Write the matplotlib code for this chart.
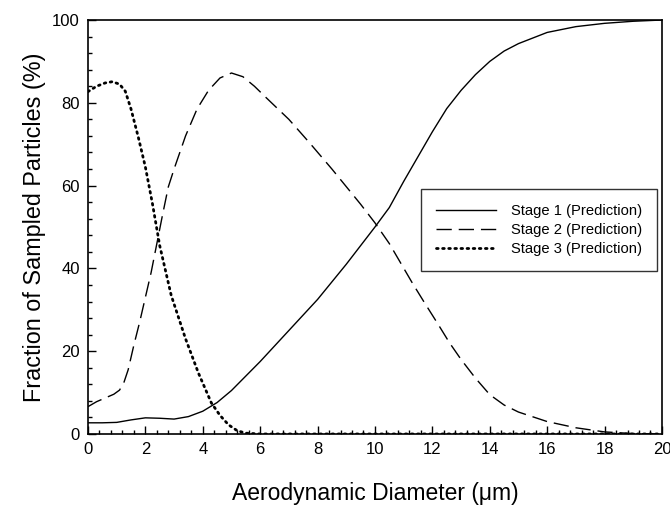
import matplotlib.pyplot as plt
from matplotlib.ticker import MultipleLocator

plt.rcParams['font.family'] = ['Liberation Sans', 'DejaVu Sans']

# Stage 1 (solid)
x1 = [0, 0.5, 1, 1.5, 2, 2.5, 3, 3.5, 4, 4.5, 5, 5.5, 6, 7, 8, 9, 10, 10.5,
      11, 11.5, 12, 12.5, 13, 13.5, 14, 14.5, 15, 16, 17, 18, 19, 20]
y1 = [2.7, 2.7, 2.8, 3.4, 3.9, 3.8, 3.6, 4.2, 5.5, 7.6, 10.5, 14, 17.5, 25,
      32.5, 41, 50, 54.7, 61, 67, 73, 78.6, 83, 86.8, 90, 92.5, 94.3, 97,
      98.4, 99.2, 99.7, 100]

# Stage 2 (dashed)
x2 = [0, 0.3, 0.6, 0.9, 1.1, 1.25, 1.4, 1.6, 1.8, 2.0, 2.2, 2.4, 2.6, 2.8,
      3.0, 3.4, 3.8, 4.2, 4.6, 5.0, 5.4, 5.8, 6.2, 7, 7.7, 8.5, 9.5, 10,
      10.5, 11.3, 11.7, 12.2, 12.6, 13, 13.5, 14, 14.5, 15, 16, 17, 18, 19, 20]
y2 = [6.6, 7.8, 8.7, 9.6, 10.6, 12.4, 15.5, 21.5, 27, 33, 39, 46, 53, 59.7,
      64, 72, 78.5, 83, 86, 87.2, 86.3, 84, 81.3, 76, 70.5, 64, 55.5, 51,
      46, 36.5, 32, 26.5, 22, 18, 13.5, 9.5, 7, 5.3, 3, 1.5, 0.5, 0.1, 0]

# Stage 3 (dotted)
x3 = [0, 0.3, 0.6, 0.85, 1.1, 1.3, 1.5, 1.75, 2.0, 2.25, 2.5, 2.9, 3.4,
      3.85, 4.3, 4.6, 4.9, 5.2, 5.5, 6, 20]
y3 = [82.7, 84.0, 84.8, 85.1, 84.5, 82.8, 78.5, 71.8, 64.5, 55.5, 45.5,
      33.5, 23, 14.7, 7.5, 4.5, 2.2, 0.8, 0.2, 0, 0]

fig = plt.figure(figsize=(6.7, 5.08), dpi=100)
ax = fig.add_axes([0.1313, 0.1457, 0.8567, 0.8149])

ax.plot(x1, y1, color='black', lw=1.0, label='Stage 1 (Prediction)')
ax.plot(x2, y2, color='black', lw=1.0, linestyle=(0, (11, 5)),
        label='Stage 2 (Prediction)')
ax.plot(x3, y3, color='black', lw=2.0, linestyle=(0, (0.6, 1.6)),
        dash_capstyle='round', label='Stage 3 (Prediction)')

ax.set_xlim(0, 20)
ax.set_ylim(0, 100)
ax.xaxis.set_major_locator(MultipleLocator(2))
ax.xaxis.set_minor_locator(MultipleLocator(0.4))
ax.yaxis.set_major_locator(MultipleLocator(20))
ax.yaxis.set_minor_locator(MultipleLocator(4))
ax.tick_params(which='both', direction='in', top=False, right=False,
               labelsize=12, width=1)
ax.tick_params(which='major', length=6, pad=6)
ax.tick_params(which='minor', length=3)
for s in ax.spines.values():
    s.set_linewidth(1.2)

ax.set_xlabel('Aerodynamic Diameter (\u03bcm)', fontsize=16.5, labelpad=18)
ax.set_ylabel('Fraction of Sampled Particles (%)', fontsize=16.8, labelpad=4)

leg = ax.legend(loc='upper right', bbox_to_anchor=(0.991, 0.591),
                fontsize=10.6, frameon=True, fancybox=False, handlelength=4.1,
                handletextpad=1.0, labelspacing=0.35, borderpad=1.0,
                borderaxespad=0)
leg.get_frame().set_edgecolor('black')
leg.get_frame().set_linewidth(1.0)

fig.savefig('out.png', dpi=100)
